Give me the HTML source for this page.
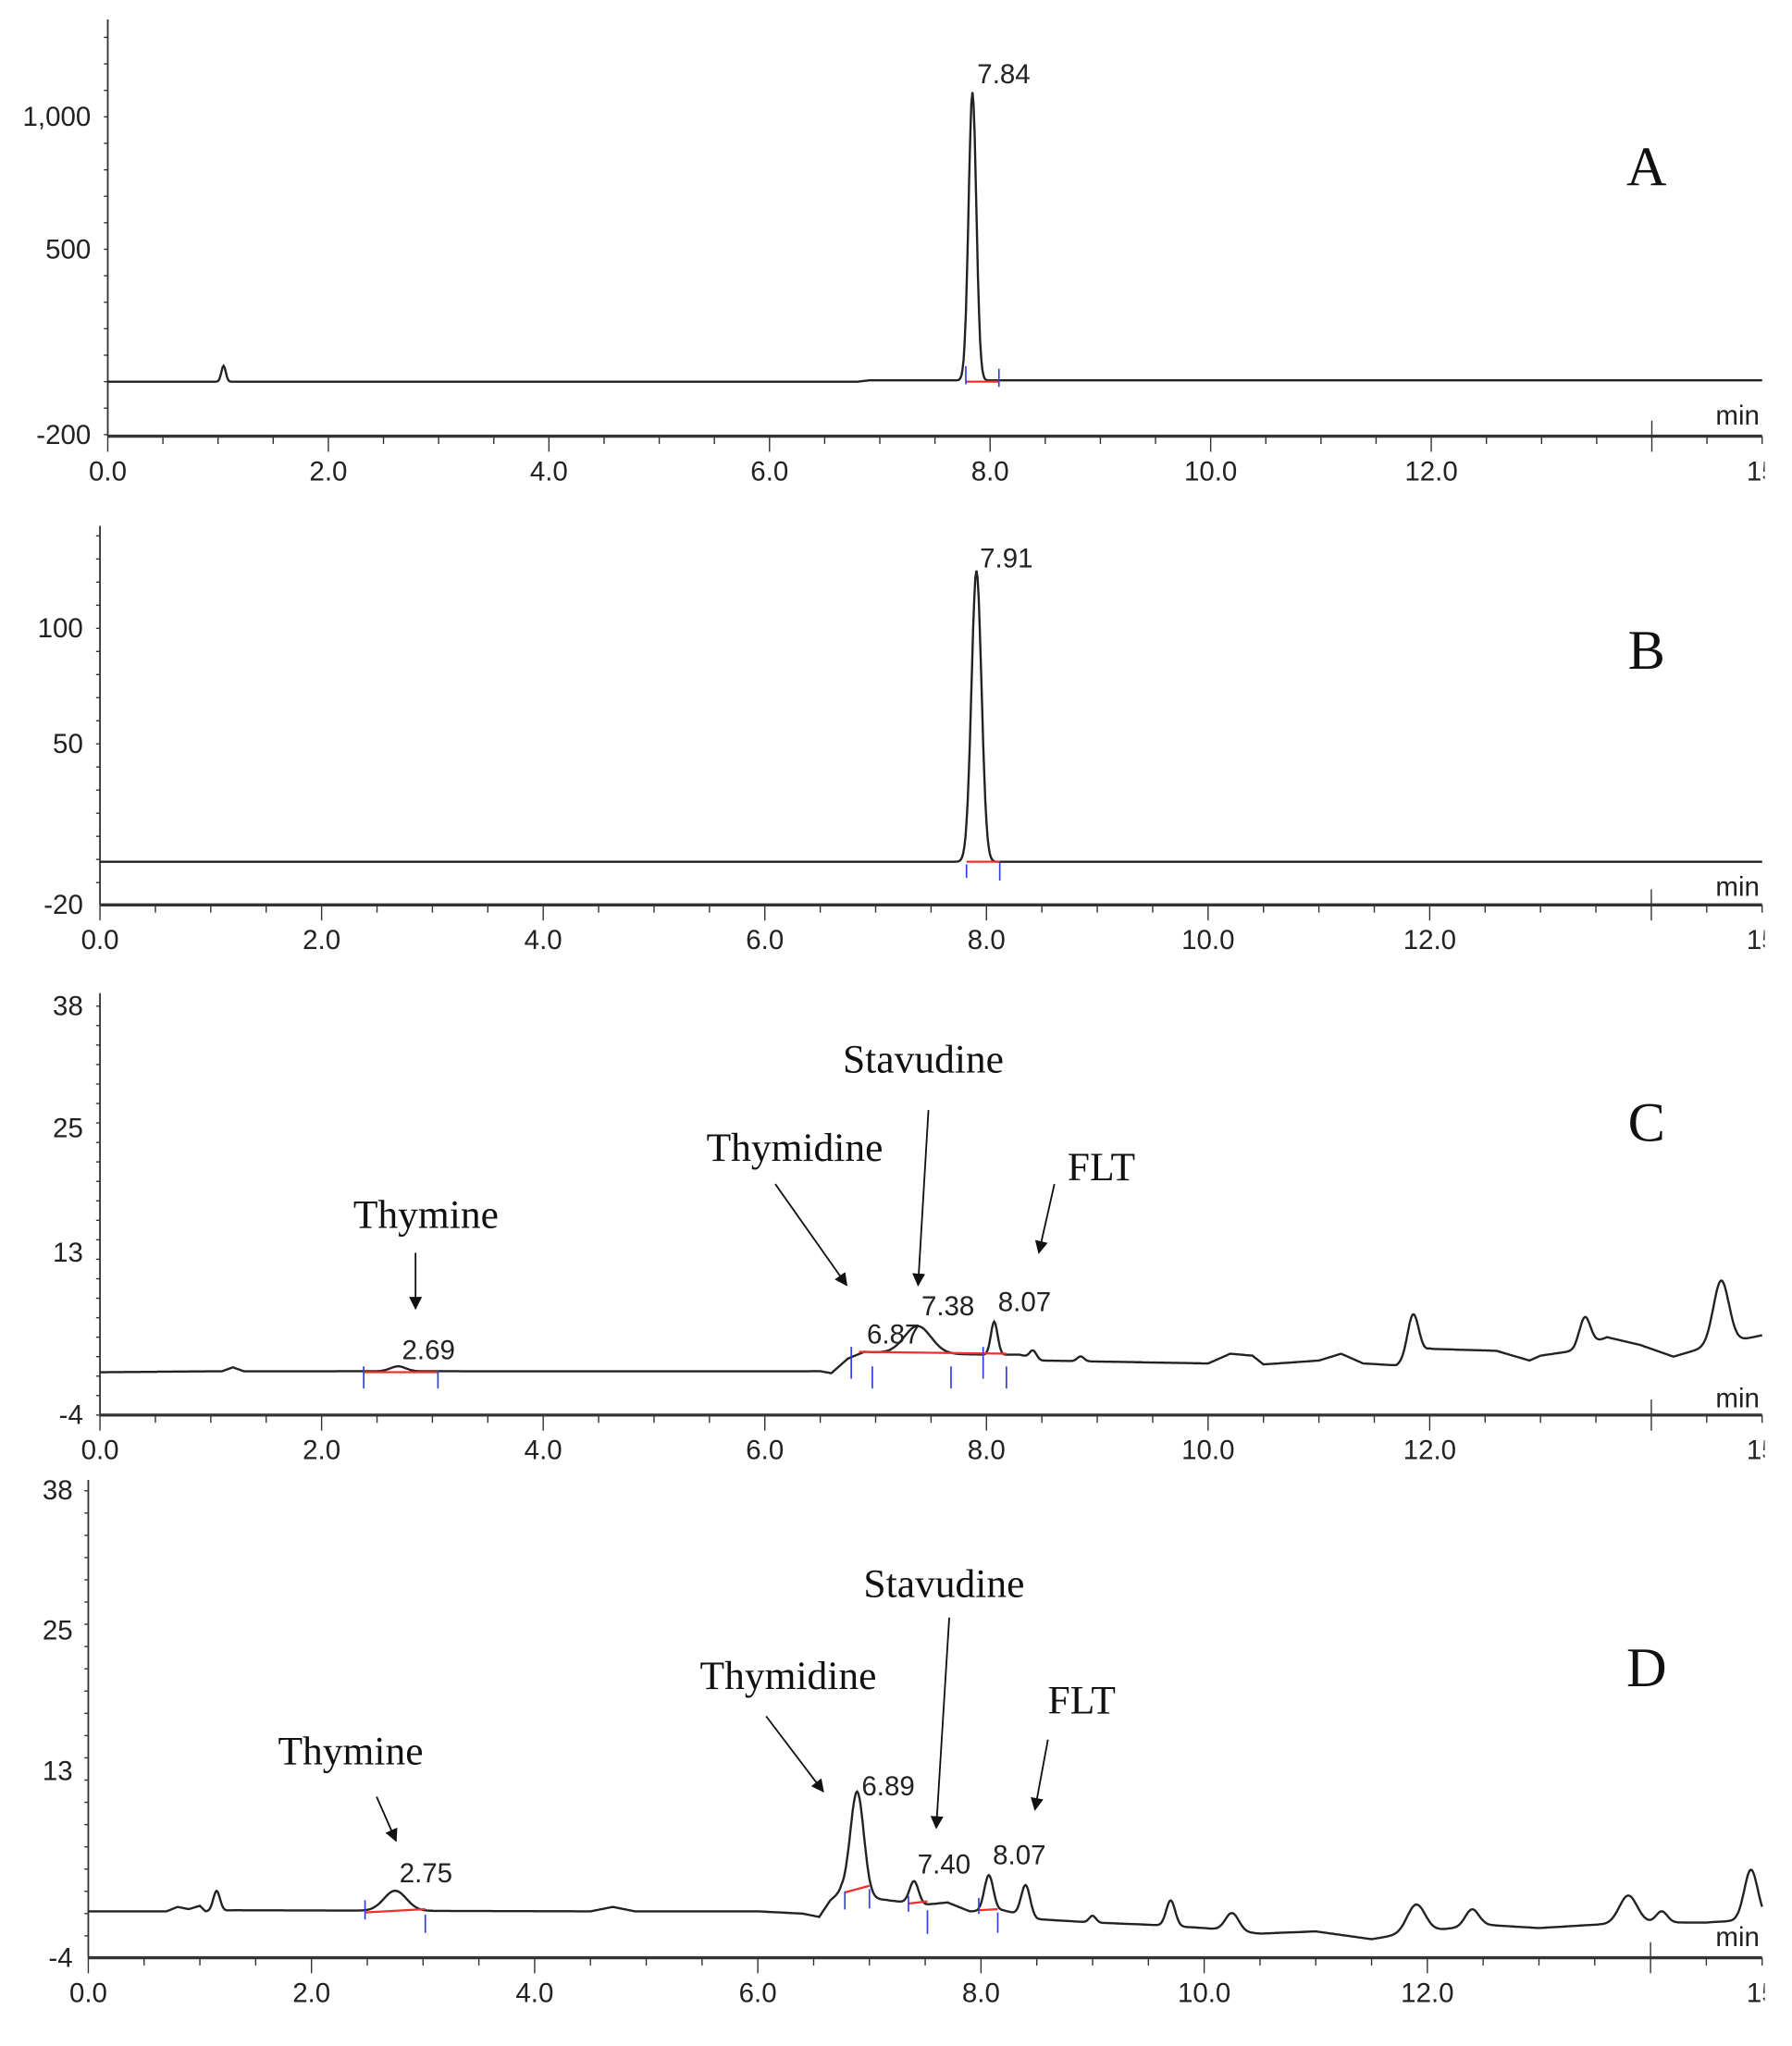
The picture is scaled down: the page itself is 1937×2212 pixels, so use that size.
<!DOCTYPE html>
<html><head><meta charset="utf-8"><style>
html,body{margin:0;padding:0;background:#fff}
svg{display:block}
.t{font-family:"Liberation Sans",sans-serif;font-size:21px;fill:#222}
.s{font-family:"Liberation Serif",serif;font-size:31px;fill:#111}
.L{font-family:"Liberation Serif",serif;font-size:43px;fill:#111}
</style></head><body>
<svg id="g" width="1937" height="2212" viewBox="0 0 1380 1576" preserveAspectRatio="none" xmlns="http://www.w3.org/2000/svg">
<defs><marker id="ah" markerWidth="10" markerHeight="10" refX="9" refY="5" orient="auto" markerUnits="userSpaceOnUse"><path d="M0,0 L10,5 L0,10 z" fill="#111"/></marker></defs>
<g id="axes" stroke="#333" fill="none"></g>
<g id="traces" fill="none"></g>
<text class="t" x="70" y="97" text-anchor="end">1,000</text>
<text class="t" x="70" y="199" text-anchor="end">500</text>
<text class="t" x="70" y="342" text-anchor="end">-200</text>
<text class="t" x="773" y="64" text-anchor="middle">7.84</text>
<text class="t" x="1355" y="327" text-anchor="end">min</text>
<text class="L" x="1268" y="143" text-anchor="middle">A</text>
<text class="t" x="64" y="491" text-anchor="end">100</text>
<text class="t" x="64" y="580" text-anchor="end">50</text>
<text class="t" x="64" y="704" text-anchor="end">-20</text>
<text class="t" x="775" y="437" text-anchor="middle">7.91</text>
<text class="t" x="1355" y="690" text-anchor="end">min</text>
<text class="L" x="1268" y="515" text-anchor="middle">B</text>
<text class="t" x="64" y="782" text-anchor="end">38</text>
<text class="t" x="64" y="876" text-anchor="end">25</text>
<text class="t" x="64" y="972" text-anchor="end">13</text>
<text class="t" x="64" y="1097" text-anchor="end">-4</text>
<text class="t" x="1355" y="1084" text-anchor="end">min</text>
<text class="L" x="1268" y="879" text-anchor="middle">C</text>
<text class="t" x="330" y="1047" text-anchor="middle">2.69</text>
<text class="t" x="688" y="1035" text-anchor="middle">6.87</text>
<text class="t" x="730" y="1013" text-anchor="middle">7.38</text>
<text class="t" x="789" y="1010" text-anchor="middle">8.07</text>
<text class="s" x="328" y="946" text-anchor="middle">Thymine</text>
<text class="s" x="612" y="894" text-anchor="middle">Thymidine</text>
<text class="s" x="711" y="826" text-anchor="middle">Stavudine</text>
<text class="s" x="822" y="909">FLT</text>
<g stroke="#111" stroke-width="1.3">
<line x1="320" y1="965" x2="320" y2="1008" marker-end="url(#ah)"/>
<line x1="597" y1="912" x2="652" y2="990" marker-end="url(#ah)"/>
<line x1="715" y1="855" x2="707" y2="990" marker-end="url(#ah)"/>
<line x1="812" y1="912" x2="800" y2="965" marker-end="url(#ah)"/>
</g>
<text class="t" x="56" y="1155" text-anchor="end">38</text>
<text class="t" x="56" y="1263" text-anchor="end">25</text>
<text class="t" x="56" y="1371" text-anchor="end">13</text>
<text class="t" x="56" y="1515" text-anchor="end">-4</text>
<text class="t" x="1355" y="1499" text-anchor="end">min</text>
<text class="L" x="1268" y="1299" text-anchor="middle">D</text>
<text class="t" x="328" y="1450" text-anchor="middle">2.75</text>
<text class="t" x="684" y="1383" text-anchor="middle">6.89</text>
<text class="t" x="727" y="1443" text-anchor="middle">7.40</text>
<text class="t" x="785" y="1436" text-anchor="middle">8.07</text>
<text class="s" x="270" y="1359" text-anchor="middle">Thymine</text>
<text class="s" x="607" y="1301" text-anchor="middle">Thymidine</text>
<text class="s" x="727" y="1230" text-anchor="middle">Stavudine</text>
<text class="s" x="833" y="1320" text-anchor="middle">FLT</text>
<g stroke="#111" stroke-width="1.3">
<line x1="290" y1="1384" x2="305" y2="1418" marker-end="url(#ah)"/>
<line x1="590" y1="1322" x2="634" y2="1380" marker-end="url(#ah)"/>
<line x1="731" y1="1246" x2="721" y2="1408" marker-end="url(#ah)"/>
<line x1="807" y1="1340" x2="797" y2="1394" marker-end="url(#ah)"/>
</g>
<g id="xl"></g>
<rect x="1359" y="0" width="30" height="1576" fill="#fff"/>
</svg>
<script>
var NS="http://www.w3.org/2000/svg";
function el(p,n,a,txt){var e=document.createElementNS(NS,n);for(var k in a)e.setAttribute(k,a[k]);if(txt)e.textContent=txt;document.getElementById(p).appendChild(e);return e;}
var P=[
 {x0:83,x1:1357,top:15,bot:336,z:294,u:0.204,minor:100,ymin:-200,ymax:1300,
  base:[[0,0],[6.8,0],[6.9,5],[15,5]],pk:[[1.05,60,0.02],[7.84,1088,0.035]],
  marks:[[7.78,-8,0],[8.08,-45,-10]],red:[[7.78,0,8.08,0]]},
 {x0:77,x1:1357,top:405,bot:697,z:662,u:1.78,minor:10,ymin:-20,ymax:140,
  base:[[0,-1],[15,-1]],pk:[[7.91,126,0.045]],
  marks:[[7.82,-8,-1],[8.12,-10,-8]],red:[[7.82,-1,8.12,-1]]},
 {x0:77,x1:1357,top:765,bot:1090,z:1060,u:7.5,minor:2,ymin:-4,ymax:38,
  base:[[0,0.4],[1.1,0.5],[1.2,0.9],[1.3,0.5],[6.5,0.5],[6.6,0.3],[6.75,1.8],[6.9,2.5],[7.1,2.4],[8.0,2.2],[8.3,2.2],[8.5,1.6],[9.5,1.4],[10.0,1.3],[10.2,2.3],[10.4,2.1],[10.5,1.2],[11.0,1.6],[11.2,2.3],[11.4,1.3],[11.7,1.1],[12.0,2.8],[12.6,2.6],[12.9,1.6],[13.0,2.1],[13.3,2.6],[13.6,4.0],[13.9,3.2],[14.2,2.0],[14.5,3.0],[15,4.2]],
  pk:[[2.69,0.5,0.07],[7.38,2.8,0.12],[8.07,3.4,0.03],[8.42,0.8,0.03],[8.85,0.5,0.03],[11.85,4.4,0.05],[13.4,3.0,0.05],[14.63,6.5,0.07]],
  marks:[[2.38,1.0,-1.0],[3.05,-1.0,-1.0],[6.78,3.0,0],[6.97,1.0,-1],[7.68,1.0,-1],[7.97,3.0,0],[8.18,1.0,-1]],
  red:[[2.38,0.4,3.05,0.4],[6.85,2.5,8.18,2.3]]},
 {x0:68,x1:1357,top:1140,bot:1508,z:1474,u:8.57,minor:2,ymin:-4,ymax:38,
  base:[[0,0.2],[0.7,0.2],[0.8,0.6],[0.9,0.4],[1.0,0.7],[1.05,0.2],[1.3,0.3],[4.5,0.2],[4.7,0.6],[4.9,0.2],[6.0,0.2],[6.4,0],[6.55,-0.3],[6.65,1.2],[6.75,2.0],[7.0,1.4],[7.5,0.8],[7.7,1.0],[7.9,0.2],[8.2,0.3],[8.5,-0.5],[9.0,-0.8],[9.5,-1.0],[10.0,-1.3],[10.5,-1.8],[11.0,-1.6],[11.5,-2.3],[11.8,-1.8],[12.5,-1.0],[13.0,-1.3],[13.5,-1.0],[14.0,-0.8],[14.5,-0.8],[15,-0.5]],
  pk:[[1.15,1.8,0.03],[2.75,1.8,0.1],[6.89,9.3,0.06],[7.40,2.0,0.04],[8.07,3.2,0.04],[8.4,2.8,0.04],[9.0,0.6,0.03],[9.7,2.3,0.04],[10.25,1.6,0.06],[11.9,2.5,0.08],[12.4,1.5,0.06],[13.8,2.5,0.08],[14.1,1.0,0.05],[14.9,4.5,0.06]],
  marks:[[2.48,1.2,-0.3],[3.02,-0.1,-1.5],[6.78,2.0,0.6],[7.0,2.2,0.7],[7.35,1.6,0.4],[7.52,0.3,-1.6],[7.98,1.4,0.2],[8.15,0.1,-1.5]],
  red:[[2.48,0.1,3.02,0.4],[6.78,1.9,7.0,2.5],[7.35,0.9,7.52,1.1],[7.98,0.3,8.15,0.4]]}
];
P.forEach(function(p,i){
 var pm=(p.x1-p.x0)/15;
 function X(t){return p.x0+t*pm}
 function Y(v){return p.z-v*p.u}
 el("axes","line",{x1:p.x0,y1:p.top,x2:p.x0,y2:p.bot,"stroke-width":1.3});
 el("axes","line",{x1:p.x0,y1:p.bot,x2:p.x1,y2:p.bot,"stroke-width":2.4});
 for(var v=Math.ceil(p.ymin/p.minor)*p.minor;v<=p.ymax;v+=p.minor){var y=Y(v);if(y<p.top||y>p.bot)continue;el("axes","line",{x1:p.x0-3,y1:y,x2:p.x0,y2:y,"stroke-width":1});}
 for(var k=0;k<=30;k++){var x=X(k*0.5);var L=(k%4==0)?12:6;el("axes","line",{x1:x,y1:p.bot,x2:x,y2:p.bot+L,"stroke-width":1});}
 for(var k=0;k<=6;k++){el("xl","text",{"class":"t",x:X(k*2),y:p.bot+34,"text-anchor":"middle"},(k*2).toFixed(1));}
 el("xl","text",{"class":"t",x:X(15)-12,y:p.bot+34},"15");
 el("axes","line",{x1:X(14),y1:p.bot,x2:X(14),y2:p.bot-12,"stroke-width":1});
 var d="";
 for(var t=0;t<=15.0001;t+=0.01){
  var b=p.base,v=b[b.length-1][1];
  for(var j=0;j<b.length-1;j++){if(t>=b[j][0]&&t<=b[j+1][0]){var f=(t-b[j][0])/(b[j+1][0]-b[j][0]);v=b[j][1]+f*(b[j+1][1]-b[j][1]);break;}}
  p.pk.forEach(function(q){v+=q[1]*Math.exp(-0.5*Math.pow((t-q[0])/q[2],2));});
  var y=Math.max(Y(v),p.top);
  d+=(d?"L":"M")+X(t).toFixed(1)+","+y.toFixed(1);
 }
 el("traces","path",{d:d,stroke:"#222","stroke-width":1.7});
 p.red.forEach(function(r){el("traces","line",{x1:X(r[0]),y1:Y(r[1]),x2:X(r[2]),y2:Y(r[3]),stroke:"#f03030","stroke-width":1.6});});
 p.marks.forEach(function(m){var y1=Y(m[1]),y2=Y(m[2]);if(Math.abs(y1-y2)<10){y1=y2-12;}el("traces","line",{x1:X(m[0]),y1:y1,x2:X(m[0]),y2:y2+2,stroke:"#3040e0","stroke-width":1.2});});
});
</script>
</body></html>
